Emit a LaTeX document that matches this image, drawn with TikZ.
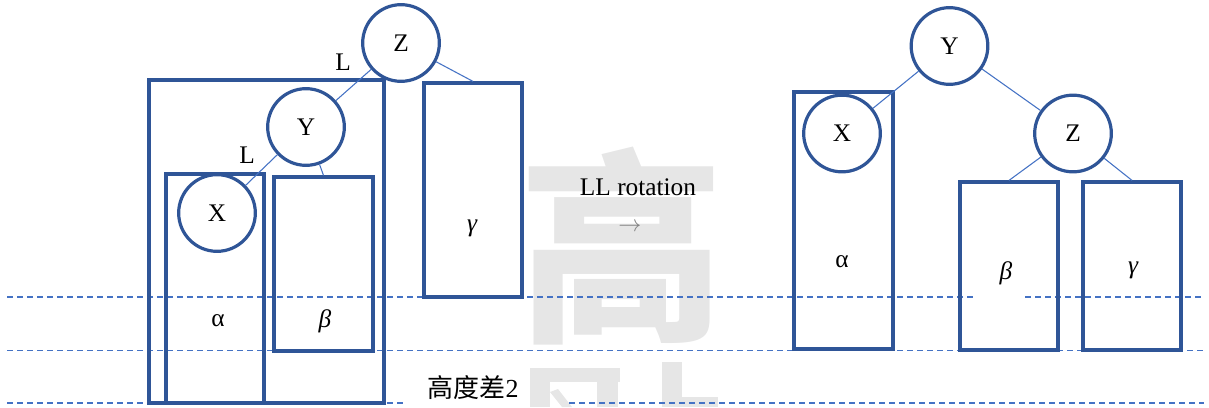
\documentclass[tikz,border=0pt]{standalone}
\usepackage{fontspec}
\setmainfont{Liberation Serif}
\newfontfamily\cjk{Noto Sans CJK SC}
\usetikzlibrary{fit}
\definecolor{boxblue}{HTML}{2F5597}
\definecolor{lineblue}{HTML}{4472C4}
\definecolor{wmgray}{HTML}{E6E6E6}
\begin{document}
\begin{tikzpicture}[x=0.75pt,y=-0.75pt,
 box/.style={draw=boxblue, line width=2.4pt, inner sep=0pt, rectangle},
 circ/.style={draw=boxblue, line width=2.4pt, circle, minimum size=57.5pt, inner sep=0pt, font=\fontsize{19}{22}\selectfont},
 conn/.style={draw=lineblue, line width=0.8pt},
 hline/.style={draw=lineblue, line width=0.9pt, dash pattern=on 4.5pt off 3pt},
 lbl/.style={inner sep=0pt, font=\fontsize{19}{22}\selectfont},
 wm/.style={fill=wmgray, draw=none}
]
\useasboundingbox (0,0) rectangle (1209,407);
% watermark
\begin{scope}
\clip (0,0) rectangle (1209,407);
\node[inner sep=0pt, anchor=base, text=wmgray, font=\cjk\bfseries\fontsize{155}{155}\selectfont] (wmark) at (622,325) {高};
\fill[wm] (530,368) rectangle (620,382);
\fill[wm] (530,368) rectangle (550,407);
\fill[wm] (597,368) rectangle (618,407);
\fill[wm] (550,392) -- (558,389) -- (572,407) -- (562,407) -- cycle;
\fill[wm] (662,362) rectangle (682,407);
\fill[wm] (662,397) rectangle (718,407);
\end{scope}
% height levels
\draw[hline] (7,297) -- (973,297);
\draw[hline] (1025,297) -- (1204,297);
\draw[hline] (7,350.5) -- (1204,350.5);
\draw[hline] (7,403) -- (403,403);
\draw[hline] (569,403) -- (1204,403);
% left tree
\node[box, fit={(149,80) (384,403)}] (lbig) {};
\node[box, fit={(166,174) (264,403)}] (lalpha) {};
\node[box, fit={(274,177) (373,351)}] (lbeta) {};
\node[box, fit={(424,83) (522,297)}] (lgamma) {};
\node[circ] (lZ) at (401,43) {Z};
\node[circ] (lY) at (306,127) {Y};
\node[circ] (lX) at (217,213) {X};
\draw[conn] (lZ) -- (lY);
\draw[conn] (lY) -- (lX);
\draw[conn] (lY) -- (lbeta.north);
\draw[conn] (lZ) -- (lgamma.north);
\node[lbl] (L1) at (343,62) {L};
\node[lbl] (L2) at (247,155) {L};
\node[lbl] (la) at (218,321) {α};
\node[lbl] (lb) at (325,321) {\itshape β};
\node[lbl] (lg) at (472,228) {\itshape γ};
% middle
\node[lbl] (rot) at (638,187) {LL rotation};
\node[lbl, text=gray] (arr) at (630,227) {$\rightarrow$};
\node[inner sep=0pt, font=\fontsize{19.5}{22}\selectfont] (diff) at (473,388) {{\cjk 高度差}2};
% right tree
\node[box, fit={(794,92) (893,349)}] (ralpha) {};
\node[box, fit={(960,182) (1058,350)}] (rbeta) {};
\node[box, fit={(1083,182) (1181,350)}] (rgamma) {};
\node[circ] (rY) at (949.5,46) {Y};
\node[circ] (rX) at (842,133.5) {X};
\node[circ] (rZ) at (1073,133.5) {Z};
\draw[conn] (rY) -- (rX);
\draw[conn] (rY) -- (rZ);
\draw[conn] (rZ) -- (rbeta.north);
\draw[conn] (rZ) -- (rgamma.north);
\node[lbl] (ra) at (842,262) {α};
\node[lbl] (rb) at (1006,273) {\itshape β};
\node[lbl] (rg) at (1133,270) {\itshape γ};
\end{tikzpicture}
\end{document}
